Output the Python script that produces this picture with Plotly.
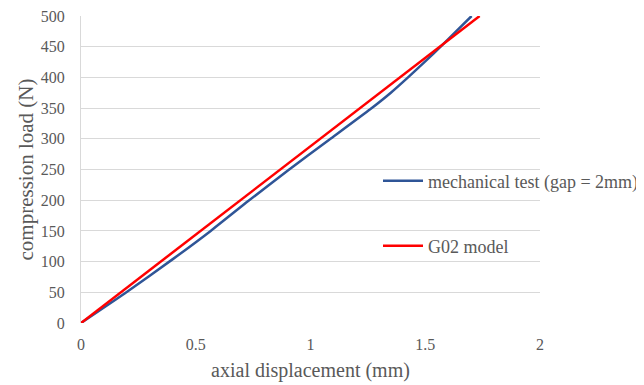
import plotly.graph_objects as go

# Data
test_x = [0, 0.19, 0.40, 0.565, 0.73, 0.90, 1.08, 1.26, 1.35, 1.425, 1.50, 1.575, 1.702]
test_y = [0, 48, 104, 150, 199, 248, 298, 348, 375, 400, 426, 453, 500]
model_x = [0, 1.737]
model_y = [0, 500]

name_test = "mechanical test (gap = 2mm)"
name_model = "G02 model"

font_family = "Times New Roman, Liberation Serif, serif"
txt = "#595959"

fig = go.Figure()
fig.add_trace(go.Scatter(x=test_x, y=test_y, mode="lines", name=name_test,
                         line=dict(color="#2F5597", width=2.5, shape="spline", smoothing=0.5),
                         legend="legend"))
fig.add_trace(go.Scatter(x=model_x, y=model_y, mode="lines", name=name_model,
                         line=dict(color="#FF0000", width=2.5),
                         legend="legend2"))

# page body has an 8px margin, so figure is offset by 8px
OFF = 8
W, H = 644 - OFF, 385 - OFF
L, R, T, B = 81 - OFF, 104, 16 - OFF, 62
pw = W - L - R
ph = H - T - B

def px_x(p):
    return (p - OFF - L) / pw

def px_y(p):
    return (H - B - (p - OFF)) / ph

leg_font = dict(family=font_family, size=18, color=txt)
fig.update_layout(
    width=W, height=H,
    margin=dict(l=L, r=R, t=T, b=B, autoexpand=False),
    paper_bgcolor="white", plot_bgcolor="white",
    font=dict(family=font_family, size=16, color=txt),
    showlegend=True,
    legend=dict(x=px_x(378), y=px_y(181), xanchor="left", yanchor="middle", itemwidth=40,
                bgcolor="rgba(0,0,0,0)", font=leg_font),
    legend2=dict(x=px_x(378), y=px_y(246), xanchor="left", yanchor="middle", itemwidth=40,
                 bgcolor="rgba(0,0,0,0)", font=leg_font),
    xaxis=dict(range=[0, 2], dtick=0.5, showgrid=False, zeroline=False,
               showline=False, ticks="", ticklabelstandoff=10,
               tickfont=dict(family=font_family, size=16, color=txt),
               title=dict(text="axial displacement (mm)", font=dict(family=font_family, size=20, color=txt), standoff=10)),
    yaxis=dict(range=[0, 500], dtick=50, showgrid=True, gridcolor="#D9D9D9", gridwidth=1,
               zeroline=False, showline=True, linecolor="#D9D9D9", linewidth=1,
               ticks="", ticklabeloverflow="allow", ticklabelstandoff=12,
               tickfont=dict(family=font_family, size=16, color=txt),
               title=dict(text="compression load (N)", font=dict(family=font_family, size=21, color=txt), standoff=1)),
)

fig.write_html("out.html")
